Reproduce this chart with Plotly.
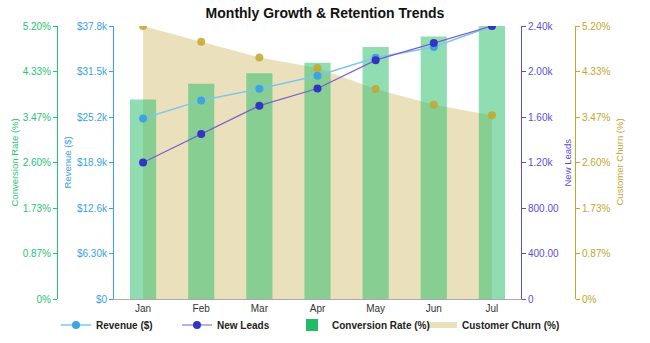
import plotly.graph_objects as go

months = ["Jan", "Feb", "Mar", "Apr", "May", "Jun", "Jul"]
revenue = [25000, 27500, 29100, 30900, 33400, 34900, 37800]
new_leads = [1200, 1450, 1700, 1850, 2100, 2250, 2400]
conversion = [3.8, 4.1, 4.3, 4.5, 4.8, 5.0, 5.2]
churn = [5.2, 4.9, 4.6, 4.4, 4.0, 3.7, 3.5]

pct_ticks = [0, 0.8667, 1.7333, 2.6, 3.4667, 4.3333, 5.2]
pct_labels = ["0%", "0.87%", "1.73%", "2.60%", "3.47%", "4.33%", "5.20%"]
rev_ticks = [0, 6300, 12600, 18900, 25200, 31500, 37800]
rev_labels = ["$0", "$6.30k", "$12.6k", "$18.9k", "$25.2k", "$31.5k", "$37.8k"]
lead_ticks = [0, 400, 800, 1200, 1600, 2000, 2400]
lead_labels = ["0", "400.00", "800.00", "1.20k", "1.60k", "2.00k", "2.40k"]

C_CONV = "#27c373"
C_REV = "#3d9fe6"
C_LEAD = "#5b4fd6"
C_CHURN = "#c4a62c"

FONT = "Liberation Sans, Arial, sans-serif"

fig = go.Figure()

# churn area (bottom layer, main y axis)
fig.add_trace(go.Scatter(
    x=months, y=churn, name="<b>Customer Churn (%)</b>", mode="none",
    fill="tozeroy", fillcolor="rgba(184,154,32,0.3)",
    yaxis="y", legend="legend4",
))
# conversion bars
fig.add_trace(go.Bar(
    x=months, y=conversion, name="<b>Conversion Rate (%)</b>",
    marker=dict(color="#22bb66", opacity=0.5, line=dict(color="#22bb66", width=0)),
    width=0.45, yaxis="y2", legend="legend3",
))
# revenue line
fig.add_trace(go.Scatter(
    x=months, y=revenue, name="<b>Revenue ($)</b>", mode="lines+markers",
    line=dict(color="#80c4f0", width=1.5),
    marker=dict(color="#3fa2e2", size=8),
    yaxis="y3", legend="legend",
))
# leads line
fig.add_trace(go.Scatter(
    x=months, y=new_leads, name="<b>New Leads</b>", mode="lines+markers",
    line=dict(color="#7a5fcc", width=1.2),
    marker=dict(color="#3434c4", size=8),
    yaxis="y4", legend="legend2",
))
# churn points (drawn above the bars, same scale as churn axis)
fig.add_trace(go.Scatter(
    x=months, y=churn, name="Customer Churn (%)", mode="markers",
    marker=dict(color="rgba(196,166,44,0.85)", size=8),
    yaxis="y5", showlegend=False,
))

def yax(color, ticks, labels, **kw):
    d = dict(
        range=[0, ticks[-1]], tickvals=ticks, ticktext=labels,
        showgrid=False, zeroline=False, showline=True, linecolor=color, linewidth=1,
        ticks="outside", ticklen=4, tickcolor=color,
        tickfont=dict(color=color, size=10, family=FONT), automargin=False,
    )
    d.update(kw)
    return d

def leg(text_x):
    return dict(orientation="h", x=(text_x - 40) / 650, xanchor="left",
                y=-26 / 273, yanchor="middle", itemwidth=30,
                bgcolor="rgba(0,0,0,0)",
                font=dict(size=10, color="#222", family=FONT))

fig.update_layout(
    width=650, height=343,
    margin=dict(l=0, r=0, t=26, b=44, autoexpand=False),
    paper_bgcolor="white", plot_bgcolor="white",
    font=dict(family=FONT, size=11, color="#333"),
    title=dict(text="<b>Monthly Growth & Retention Trends</b>", x=0.5, xanchor="center",
               y=1 - 13 / 343, yanchor="middle", font=dict(size=14, color="#111", family=FONT)),
    showlegend=True,
    legend=leg(96), legend2=leg(217), legend3=leg(332), legend4=leg(462),
    xaxis=dict(domain=[114 / 650, 521 / 650], range=[-0.5, 6.5], showgrid=False,
               showline=True, linecolor="#aaaaaa", ticks="", zeroline=False,
               tickfont=dict(size=10, color="#333", family=FONT), automargin=False),
    yaxis=yax(C_CHURN, pct_ticks, pct_labels, anchor="free", position=575 / 650, side="right"),
    yaxis2=yax(C_CONV, pct_ticks, pct_labels, anchor="free", position=57 / 650, side="left", overlaying="y"),
    yaxis3=yax(C_REV, rev_ticks, rev_labels, anchor="x", side="left", overlaying="y"),
    yaxis4=yax(C_LEAD, lead_ticks, lead_labels, anchor="x", side="right", overlaying="y"),
    yaxis5=dict(range=[0, pct_ticks[-1]], overlaying="y", visible=False, anchor="x"),
)

titles = [
    ("Conversion Rate (%)", 14, C_CONV),
    ("Revenue ($)", 67, C_REV),
    ("New Leads", 567, C_LEAD),
    ("Customer Churn (%)", 619, C_CHURN),
]
for text, px, col in titles:
    fig.add_annotation(text=text, xref="paper", yref="paper", x=px / 650, y=0.5,
                       xanchor="center", yanchor="middle", textangle=-90, showarrow=False,
                       font=dict(size=9.5, color=col, family=FONT))

fig.write_html("out.html")
